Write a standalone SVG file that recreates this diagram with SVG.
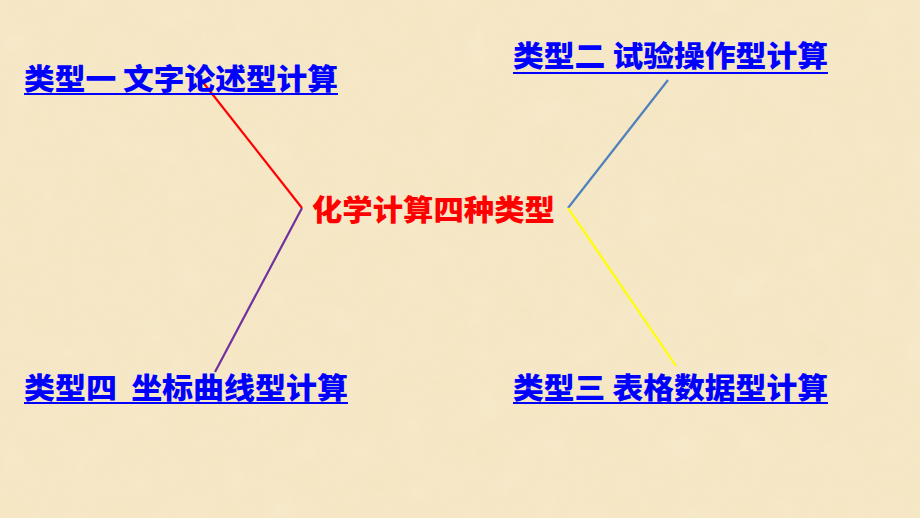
<svg xmlns="http://www.w3.org/2000/svg" width="920" height="518" viewBox="0 0 920 518">
<style>
.t{font-family:"Microsoft YaHei","Noto Sans CJK SC",sans-serif;font-weight:900;font-size:29px;white-space:pre;}
.b{fill:#0000FF;}
.ul{stroke:#0000FF;stroke-width:2;}
.c{fill:none;stroke-width:2.2;}
</style>
<defs>
<filter id="tex" x="0" y="0" width="100%" height="100%">
<feTurbulence type="fractalNoise" baseFrequency="0.03" numOctaves="3" seed="3"/>
<feColorMatrix type="matrix" values="0 0 0 0 1  0 0 0 0 1  0 0 0 0 1  0 0 0 0.25 0"/>
</filter>
</defs>
<rect width="920" height="518" fill="#F5E6C2"/>
<rect width="920" height="518" filter="url(#tex)" opacity="0.5"/>
<g id="connectors">
<line class="c" x1="202" y1="81" x2="302" y2="208" stroke="#FF0000"/>
<line class="c" x1="302" y1="208" x2="215" y2="372" stroke="#7030A0"/>
<line class="c" x1="668" y1="80" x2="568" y2="208" stroke="#4F81BD"/>
<line class="c" x1="568" y1="208" x2="676" y2="366" stroke="#FFFF00"/>
</g>
<g id="center">
<text class="t" x="312" y="221" textLength="243" lengthAdjust="spacingAndGlyphs" fill="#FF0000">化学计算四种类型</text>
</g>
<g id="type1">
<text class="t b" x="24" y="90" textLength="314" lengthAdjust="spacingAndGlyphs">类型一 文字论述型计算</text>
<line class="ul" x1="24" y1="94" x2="338" y2="94"/>
</g>
<g id="type2">
<text class="t b" x="513" y="67" textLength="315" lengthAdjust="spacingAndGlyphs">类型二 试验操作型计算</text>
<line class="ul" x1="513" y1="73" x2="828" y2="73"/>
</g>
<g id="type3">
<text class="t b" x="513" y="399" textLength="315" lengthAdjust="spacingAndGlyphs">类型三 表格数据型计算</text>
<line class="ul" x1="513" y1="403" x2="828" y2="403"/>
</g>
<g id="type4">
<text class="t b" x="24" y="399" textLength="324" lengthAdjust="spacingAndGlyphs" xml:space="preserve">类型四  坐标曲线型计算</text>
<line class="ul" x1="24" y1="403" x2="348" y2="403"/>
</g>
</svg>
